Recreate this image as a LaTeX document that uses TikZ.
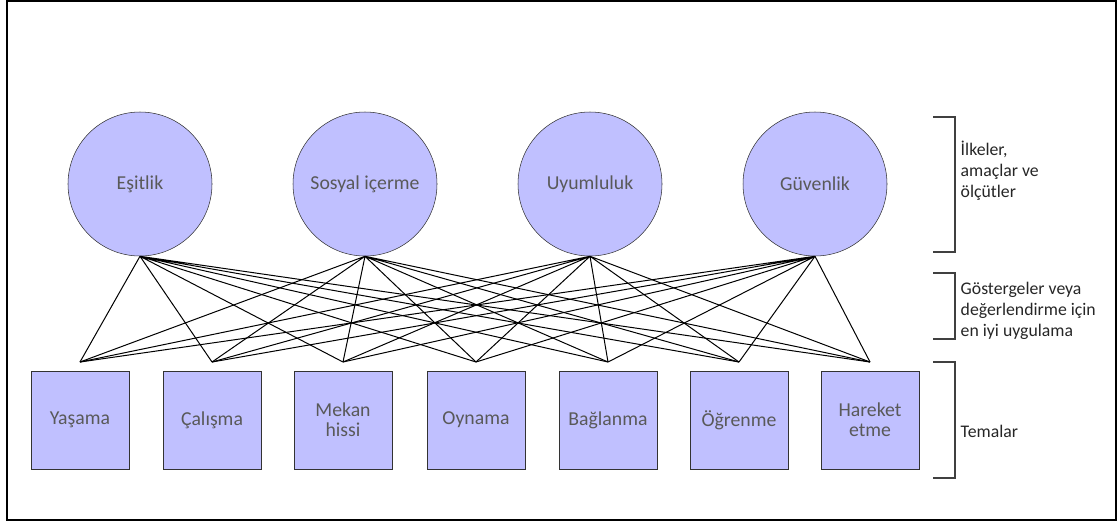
\documentclass[tikz,border=0pt]{standalone}
\usepackage{fontspec}
\setmainfont{Carlito}
\usepackage{tikz}
\definecolor{lavender}{RGB}{192,192,255}
\definecolor{labelgray}{RGB}{89,89,89}

\begin{document}
\begin{tikzpicture}[x=0.75pt,y=-0.75pt,
    principle/.style={circle,draw=black!80,fill=lavender,minimum size=108pt,inner sep=0pt,
      text=labelgray,font=\fontsize{14.8}{15}\selectfont},
    theme/.style={rectangle,draw=black!80,fill=lavender,minimum size=73.5pt,inner sep=0pt,
      align=center,text=labelgray,font=\fontsize{14.8}{15}\selectfont},
    bracket/.style={line width=1.1pt,draw=black!75},
    level/.style={right,align=left,text=black!85,font=\fontsize{13.3}{15.75}\selectfont}]
    \useasboundingbox (0,0) rectangle (1120,522);
    \draw [line width=1.5pt] (7,1) rectangle (1116,520);
    % principles
    \node [principle] (esitlik) at (140,184) {Eşitlik};
    \node [principle] (sosyal) at (365,184) {Sosyal içerme};
    \node [principle] (uyum) at (590,184) {Uyumluluk};
    \node [principle] (guven) at (815,184) {Güvenlik};
    % themes
    \node [theme] (yasama) at (80,420) {Yaşama};
    \node [theme] (calisma) at (212,420) {Çalışma};
    \node [theme] (mekan) at (343,420) {Mekan\\hissi};
    \node [theme] (oynama) at (476,420) {Oynama};
    \node [theme] (baglanma) at (608,420) {Bağlanma};
    \node [theme] (ogrenme) at (739,420) {Öğrenme};
    \node [theme] (hareket) at (870,420) {Hareket\\etme};
    \coordinate (y1) at (80,362);
    \coordinate (y2) at (212,362);
    \coordinate (y3) at (343,362);
    \coordinate (y4) at (476,362);
    \coordinate (y5) at (608,362);
    \coordinate (y6) at (739,362);
    \coordinate (y7) at (870,362);
    % indicators
    \draw [line width=0.75pt] (esitlik.south) -- (y1) (esitlik.south) -- (y2) (esitlik.south) -- (y3)
      (esitlik.south) -- (y4) (esitlik.south) -- (y5) (esitlik.south) -- (y6) (esitlik.south) -- (y7);
    \draw [line width=0.75pt] (sosyal.south) -- (y1) (sosyal.south) -- (y2) (sosyal.south) -- (y3)
      (sosyal.south) -- (y4) (sosyal.south) -- (y5) (sosyal.south) -- (y6) (sosyal.south) -- (y7);
    \draw [line width=0.75pt] (uyum.south) -- (y1) (uyum.south) -- (y2) (uyum.south) -- (y3)
      (uyum.south) -- (y4) (uyum.south) -- (y5) (uyum.south) -- (y6) (uyum.south) -- (y7);
    \draw [line width=0.75pt] (guven.south) -- (y1) (guven.south) -- (y2) (guven.south) -- (y3)
      (guven.south) -- (y4) (guven.south) -- (y5) (guven.south) -- (y6) (guven.south) -- (y7);
    % levels
    \draw [bracket] (933,117) -- (955,117) -- (955,252) -- (933,252);
    \draw [bracket] (933,273) -- (955,273) -- (955,339) -- (933,339);
    \draw [bracket] (933,362) -- (955,362) -- (955,478) -- (933,478);
    \node [level] (ilkeler) at (956,171) {İlkeler,\\amaçlar ve\\ölçütler};
    \node [level] (gostergeler) at (956,311) {Göstergeler veya\\değerlendirme için\\en iyi uygulama};
    \node [level] (temalar) at (956,431) {Temalar};
  \end{tikzpicture}
\end{document}
